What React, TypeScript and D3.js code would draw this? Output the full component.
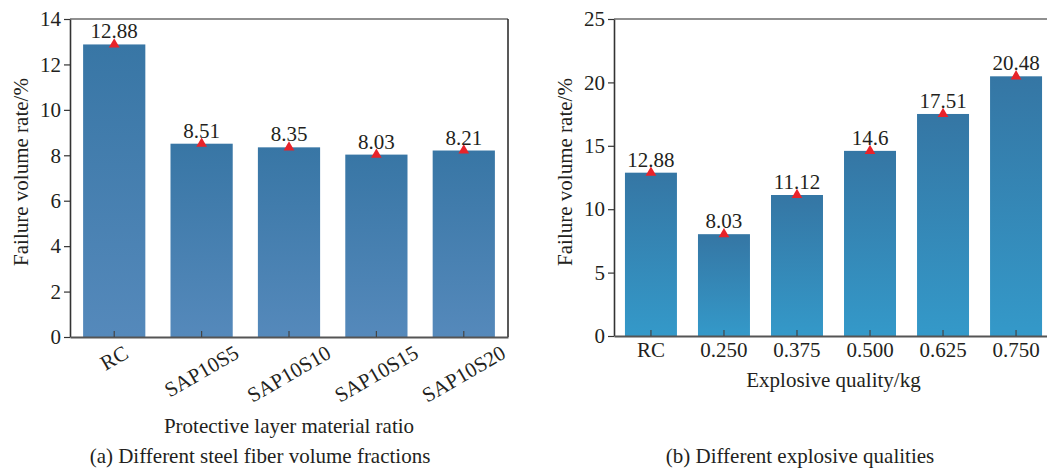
import React, { useEffect, useRef } from "react";
import * as d3 from "d3";

const leftCategories = ["RC", "SAP10S5", "SAP10S10", "SAP10S15", "SAP10S20"];
const leftValues = [12.88, 8.51, 8.35, 8.03, 8.21];
const leftValueLabels = ["12.88", "8.51", "8.35", "8.03", "8.21"];
const leftTicks = [0, 2, 4, 6, 8, 10, 12, 14];

const rightCategories = ["RC", "0.250", "0.375", "0.500", "0.625", "0.750"];
const rightValues = [12.88, 8.03, 11.12, 14.6, 17.51, 20.48];
const rightValueLabels = ["12.88", "8.03", "11.12", "14.6", "17.51", "20.48"];
const rightTicks = [0, 5, 10, 15, 20, 25];

const FONT = "'Liberation Serif', 'Times New Roman', serif";
const FS = 21;
const TEXT = "#231f20";

type PanelCfg = {
  left: number;
  right: number;
  top: number;
  bottom: number;
  max: number;
  cats: string[];
  vals: number[];
  labels: string[];
  ticks: number[];
  rotate: boolean;
  xTitle: string;
  xTitleY: number;
  caption: string;
  captionX: number;
  captionY: number;
  yTitleY: number;
  gradId: string;
};

function drawPanel(svg: any, cfg: PanelCfg) {
  const x = d3
    .scaleBand<string>()
    .domain(cfg.cats)
    .range([cfg.left, cfg.right])
    .paddingInner(0.288)
    .paddingOuter(0.15);
  const y = d3.scaleLinear().domain([0, cfg.max]).range([cfg.bottom, cfg.top]);
  const g = svg.append("g");

  // bars
  g.selectAll("rect.bar")
    .data(cfg.cats)
    .join("rect")
    .attr("class", "bar")
    .attr("x", (d: string) => x(d)!)
    .attr("y", (_d: string, i: number) => y(cfg.vals[i]))
    .attr("width", x.bandwidth())
    .attr("height", (_d: string, i: number) => y(0) - y(cfg.vals[i]))
    .attr("fill", `url(#${cfg.gradId})`);

  // frame (top + right)
  g.append("line")
    .attr("x1", cfg.left)
    .attr("x2", cfg.right)
    .attr("y1", cfg.top)
    .attr("y2", cfg.top)
    .attr("stroke", "#222")
    .attr("stroke-width", 1.2);
  g.append("line")
    .attr("x1", cfg.right)
    .attr("x2", cfg.right)
    .attr("y1", cfg.top)
    .attr("y2", cfg.bottom)
    .attr("stroke", "#222")
    .attr("stroke-width", 1.5);

  // y axis
  const ya = g
    .append("g")
    .attr("transform", `translate(${cfg.left},0)`)
    .call(d3.axisLeft(y).tickValues(cfg.ticks).tickSizeInner(6).tickSizeOuter(0).tickPadding(3));
  ya.attr("font-family", FONT).attr("font-size", FS);
  ya.select(".domain").attr("stroke", "#333").attr("stroke-width", 1.6);
  ya.selectAll(".tick line").attr("stroke", "#333").attr("stroke-width", 1.2);
  ya.selectAll(".tick text").attr("fill", TEXT);

  // x axis
  const xa = g
    .append("g")
    .attr("transform", `translate(0,${cfg.bottom})`)
    .call(d3.axisBottom(x).tickSizeInner(-6).tickSizeOuter(0));
  xa.select(".domain").attr("stroke", "#555").attr("stroke-width", 2);
  xa.selectAll(".tick line").attr("stroke", "#444").attr("stroke-width", 1.2);
  xa.selectAll(".tick text").remove();

  // x tick labels
  cfg.cats.forEach((c) => {
    const cx = x(c)! + x.bandwidth() / 2;
    if (cfg.rotate) {
      const t = g
        .append("text")
        .attr("font-family", FONT)
        .attr("font-size", FS)
        .attr("fill", TEXT)
        .attr("text-anchor", "middle")
        .text(c);
      const w = (t.node() as SVGTextElement).getComputedTextLength();
      const capH = 0.66 * FS;
      const a = (30 * Math.PI) / 180;
      const bh = w * Math.sin(a) + capH * Math.cos(a);
      const cy = 345 + bh / 2;
      t.attr("x", 0)
        .attr("y", capH / 2)
        .attr("transform", `translate(${cx},${cy}) rotate(-30)`);
    } else {
      g.append("text")
        .attr("x", cx)
        .attr("y", 357)
        .attr("font-family", FONT)
        .attr("font-size", FS)
        .attr("fill", TEXT)
        .attr("text-anchor", "middle")
        .text(c);
    }
  });

  // markers
  const tri = d3.symbol().type(d3.symbolTriangle).size(50);
  g.selectAll("path.mk")
    .data(cfg.cats)
    .join("path")
    .attr("class", "mk")
    .attr("d", tri() as string)
    .attr("fill", "#e8232a")
    .attr(
      "transform",
      (d: string, i: number) => `translate(${x(d)! + x.bandwidth() / 2},${y(cfg.vals[i])})`
    );

  // value labels
  g.selectAll("text.val")
    .data(cfg.cats)
    .join("text")
    .attr("class", "val")
    .attr("x", (d: string) => x(d)! + x.bandwidth() / 2)
    .attr("y", (_d: string, i: number) => y(cfg.vals[i]) - 6)
    .attr("text-anchor", "middle")
    .attr("font-family", FONT)
    .attr("font-size", FS)
    .attr("fill", TEXT)
    .text((_d: string, i: number) => cfg.labels[i]);

  // axis titles
  g.append("text")
    .attr("x", (cfg.left + cfg.right) / 2)
    .attr("y", cfg.xTitleY)
    .attr("text-anchor", "middle")
    .attr("font-family", FONT)
    .attr("font-size", FS)
    .attr("fill", TEXT)
    .text(cfg.xTitle);
  g.append("text")
    .attr("transform", `translate(${cfg.left - 42.5},${cfg.yTitleY}) rotate(-90)`)
    .attr("text-anchor", "middle")
    .attr("font-family", FONT)
    .attr("font-size", FS)
    .attr("fill", TEXT)
    .text("Failure volume rate/%");

  // caption
  g.append("text")
    .attr("x", cfg.captionX)
    .attr("y", cfg.captionY)
    .attr("text-anchor", "middle")
    .attr("font-family", FONT)
    .attr("font-size", FS)
    .attr("fill", TEXT)
    .text(cfg.caption);
}

export default function App() {
  const ref = useRef<SVGSVGElement>(null);
  useEffect(() => {
    const svg = d3.select(ref.current);
    svg.selectAll("*").remove();
    const defs = svg.append("defs");
    const grad = (id: string, top: string, bottom: string) => {
      const lg = defs
        .append("linearGradient")
        .attr("id", id)
        .attr("x1", 0)
        .attr("y1", 0)
        .attr("x2", 0)
        .attr("y2", 1);
      lg.append("stop").attr("offset", "0%").attr("stop-color", top);
      lg.append("stop").attr("offset", "100%").attr("stop-color", bottom);
    };
    grad("gradA", "#3876a5", "#5589bb");
    grad("gradB", "#3576a4", "#3499c9");

    drawPanel(svg, {
      left: 70,
      right: 508,
      top: 19,
      bottom: 337,
      max: 14,
      cats: leftCategories,
      vals: leftValues,
      labels: leftValueLabels,
      ticks: leftTicks,
      rotate: true,
      xTitle: "Protective layer material ratio",
      xTitleY: 433,
      caption: "(a) Different steel fiber volume fractions",
      captionX: 260,
      captionY: 463,
      yTitleY: 172,
      gradId: "gradA",
    });
    drawPanel(svg, {
      left: 614,
      right: 1053,
      top: 19,
      bottom: 336,
      max: 25,
      cats: rightCategories,
      vals: rightValues,
      labels: rightValueLabels,
      ticks: rightTicks,
      rotate: false,
      xTitle: "Explosive quality/kg",
      xTitleY: 387,
      caption: "(b) Different explosive qualities",
      captionX: 800,
      captionY: 463,
      yTitleY: 172,
      gradId: "gradB",
    });
  }, []);
  return (
    <svg
      ref={ref}
      width={1047}
      height={471}
      style={{ position: "absolute", left: 0, top: 0, background: "#fff" }}
    />
  );
}
